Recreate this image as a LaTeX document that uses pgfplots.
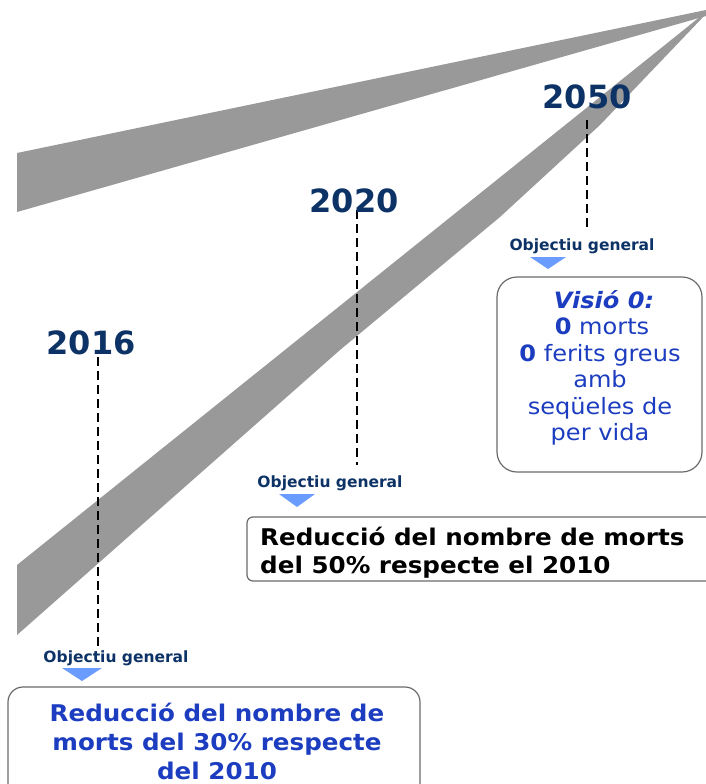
\documentclass[border=0pt]{standalone}
\usepackage{pgfplots}
\pgfplotsset{compat=1.18}
\usepackage{fontspec}
\setmainfont{DejaVu Sans}
\usepackage{graphicx}
\definecolor{navy}{HTML}{0D3366}
\definecolor{tblue}{HTML}{1C3DC0}
\definecolor{tri}{HTML}{6A9BFF}
\definecolor{wedge}{HTML}{999999}
\definecolor{boxline}{HTML}{6A6A6A}
\newcommand{\sx}[1]{\scalebox{1.07}[1]{#1}}
\begin{document}
\begin{tikzpicture}
\begin{axis}[name=ax, width=706pt, height=784pt, scale only axis,
  xmin=0, xmax=706, ymin=0, ymax=784, y dir=reverse, hide axis, clip=false]
% wedges
\addplot[fill=wedge, draw=none] coordinates {(17,153) (706,10) (706,16) (17,212)} -- cycle;
\addplot[fill=wedge, draw=none] coordinates {(17,565) (706,12)
  (706,14) (600,125) (500,217) (340,350) (17,635)} -- cycle;
% dashed leaders
\addplot[black, line width=1.2pt, dash pattern=on 9pt off 5pt] coordinates {(98,357) (98,650)};
\addplot[black, line width=1.2pt, dash pattern=on 9pt off 5pt] coordinates {(357,210) (357,465)};
\addplot[black, line width=1.2pt, dash pattern=on 9pt off 5pt] coordinates {(587,120) (587,230)};
% triangles
\addplot[fill=tri, draw=none] coordinates {(62,668) (102,668) (82,681)} -- cycle;
\addplot[fill=tri, draw=none] coordinates {(279,494) (315,494) (297,507)} -- cycle;
\addplot[fill=tri, draw=none] coordinates {(530,257) (566,257) (548,269)} -- cycle;
% boxes
\draw[boxline, line width=1.2pt, rounded corners=20pt] (axis cs:497,277) rectangle (axis cs:702,472);
\draw[boxline, line width=1.2pt, rounded corners=6pt] (axis cs:706,517) -- (axis cs:247,517) -- (axis cs:247,581) -- (axis cs:706,581);
\draw[boxline, line width=1.2pt, rounded corners=15pt] (axis cs:8,790) -- (axis cs:8,687) -- (axis cs:420,687) -- (axis cs:420,790);
% years
\node[anchor=base, inner sep=0, text=navy, font=\bfseries\fontsize{32}{32}\selectfont] at (axis cs:91,354) {2016};
\node[anchor=base, inner sep=0, text=navy, font=\bfseries\fontsize{32}{32}\selectfont] at (axis cs:354,212) {2020};
\node[anchor=base, inner sep=0, text=navy, font=\bfseries\fontsize{32}{32}\selectfont] at (axis cs:587,108) {2050};
% objectiu general
\node[anchor=base, inner sep=0, text=navy, font=\bfseries\fontsize{15.5}{16}\selectfont] at (axis cs:116,662) {Objectiu general};
\node[anchor=base, inner sep=0, text=navy, font=\bfseries\fontsize{15.5}{16}\selectfont] at (axis cs:330,487) {Objectiu general};
\node[anchor=base, inner sep=0, text=navy, font=\bfseries\fontsize{15.5}{16}\selectfont] at (axis cs:582,250) {Objectiu general};
% 2020 box text
\node[anchor=base west, inner sep=0, text=black, font=\bfseries\fontsize{23}{23}\selectfont] at (axis cs:260,545) {\sx{Reducció del nombre de morts}};
\node[anchor=base west, inner sep=0, text=black, font=\bfseries\fontsize{23}{23}\selectfont] at (axis cs:260,573) {\sx{del 50\% respecte el 2010}};
% 2016 box text
\node[anchor=base, inner sep=0, text=tblue, font=\bfseries\fontsize{23}{23}\selectfont] at (axis cs:217,721) {\sx{Reducció del nombre de}};
\node[anchor=base, inner sep=0, text=tblue, font=\bfseries\fontsize{23}{23}\selectfont] at (axis cs:217,750) {\sx{morts del 30\% respecte}};
\node[anchor=base, inner sep=0, text=tblue, font=\bfseries\fontsize{23}{23}\selectfont] at (axis cs:217,779) {\sx{del 2010}};
% Visio box text
\node[anchor=base, inner sep=0, text=tblue, font=\bfseries\itshape\fontsize{22.5}{22}\selectfont] at (axis cs:604,308) {\sx{Visió 0:}};
\node[anchor=base, inner sep=0, text=tblue, font=\fontsize{22.5}{22}\selectfont] at (axis cs:602,334) {\sx{\textbf{0} morts}};
\node[anchor=base, inner sep=0, text=tblue, font=\fontsize{22.5}{22}\selectfont] at (axis cs:600,361) {\sx{\textbf{0} ferits greus}};
\node[anchor=base, inner sep=0, text=tblue, font=\fontsize{22.5}{22}\selectfont] at (axis cs:600,387) {\sx{amb}};
\node[anchor=base, inner sep=0, text=tblue, font=\fontsize{22.5}{22}\selectfont] at (axis cs:600,414) {\sx{seqüeles de}};
\node[anchor=base, inner sep=0, text=tblue, font=\fontsize{22.5}{22}\selectfont] at (axis cs:600,440) {\sx{per vida}};
\end{axis}
\pgfresetboundingbox
\useasboundingbox (ax.south west) rectangle (ax.north east);
\end{tikzpicture}
\end{document}
